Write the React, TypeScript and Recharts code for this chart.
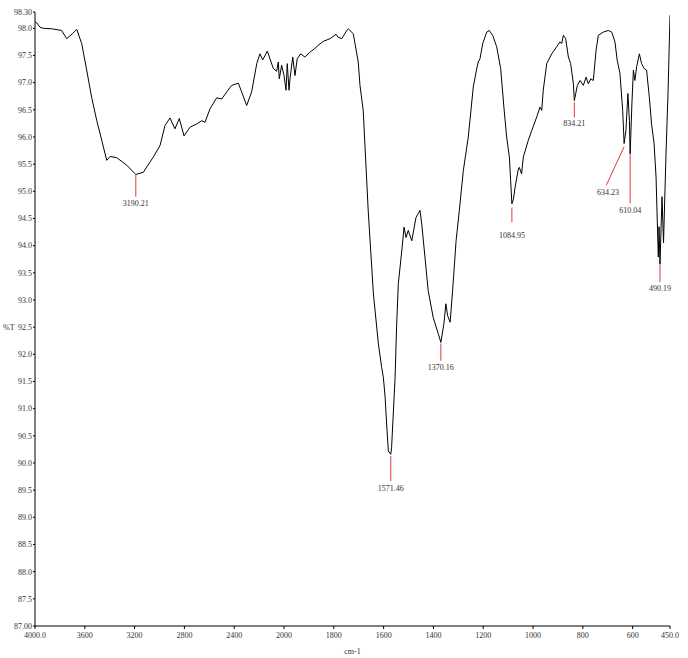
import { LineChart, Line, XAxis, YAxis, ReferenceLine, ReferenceDot } from "recharts";

// wavenumber (cm-1) and %T
const wavenumbers = [
  4000, 3986, 3960, 3933, 3860, 3786, 3745, 3700, 3665, 3625, 3585, 3545, 3504, 3464, 3424, 3398, 3344, 3263,
  3190.21, 3130, 3050, 2996, 2956, 2916, 2876, 2841, 2803, 2755, 2701, 2661, 2635, 2594, 2541, 2500, 2460, 2420,
  2367, 2340, 2300, 2260, 2219, 2193, 2171, 2134, 2086, 2059, 2046, 2038, 2019, 2000, 1992, 1987, 1980, 1976,
  1965, 1956, 1947, 1933, 1916, 1896, 1876, 1862, 1842, 1815, 1791, 1784, 1768, 1748, 1742, 1722, 1715, 1702,
  1695, 1682, 1662, 1641, 1621, 1608, 1601, 1594, 1588, 1581, 1571.46, 1568, 1554, 1548, 1541, 1527, 1518, 1510,
  1501, 1487, 1470, 1461, 1454, 1447, 1434, 1421, 1401, 1380, 1370.16, 1358, 1350, 1343, 1333, 1323, 1309, 1296,
  1280, 1260, 1240, 1226, 1220, 1213, 1202, 1186, 1176, 1162, 1146, 1130, 1117, 1106, 1095, 1090, 1084.95, 1079,
  1072, 1059, 1055, 1046, 1039, 1019, 1005, 985, 972, 965, 959, 945, 925, 905, 892, 885, 878, 869, 858, 849, 838,
  834.21, 822, 811, 798, 787, 778, 768, 758, 747, 738, 718, 698, 684, 671, 662, 651, 640, 634.23, 627, 619, 613,
  610.04, 603, 597, 591, 584, 573, 564, 554, 544, 533, 524, 514, 506, 497, 494, 490.19, 482, 476, 466, 458, 450
];

const transmittance = [
  98.12, 98.1, 98.02, 98.0, 97.99, 97.96, 97.81, 97.9, 97.98, 97.72, 97.23, 96.73, 96.3, 95.94, 95.57, 95.64, 95.62, 95.48,
  95.31, 95.35, 95.63, 95.84, 96.21, 96.35, 96.15, 96.34, 96.02, 96.18, 96.24, 96.3, 96.27, 96.52, 96.72, 96.7, 96.83, 96.95,
  96.99, 96.83, 96.58, 96.83, 97.35, 97.53, 97.42, 97.58, 97.26, 97.21, 97.38, 97.07, 97.32, 97.13, 96.86, 97.35, 96.86, 97.07,
  97.47, 97.13, 97.44, 97.53, 97.47, 97.56, 97.63, 97.69, 97.76, 97.81, 97.89, 97.84, 97.81, 97.96, 97.99, 97.9, 97.72, 97.38,
  96.95, 96.49, 94.65, 93.11, 92.19, 91.76, 91.57, 91.21, 90.72, 90.22, 90.16, 90.29, 91.57, 92.5, 93.3, 93.91, 94.34, 94.15,
  94.28, 94.09, 94.52, 94.59, 94.65, 94.4, 93.79, 93.17, 92.68, 92.37, 92.22, 92.56, 92.93, 92.71, 92.59, 93.17, 94.09, 94.65,
  95.38, 96.0, 96.92, 97.26, 97.38, 97.44, 97.72, 97.93, 97.96, 97.87, 97.66, 97.26, 96.55, 96.0, 95.63, 95.2, 94.77, 94.85,
  95.08, 95.41, 95.44, 95.32, 95.63, 95.94, 96.12, 96.37, 96.55, 96.49, 96.86, 97.35, 97.53, 97.66, 97.75, 97.72, 97.87, 97.81, 97.47, 97.35, 96.98,
  96.67, 96.95, 97.04, 96.95, 97.1, 96.98, 97.07, 97.04, 97.59, 97.87, 97.93, 97.96, 97.93, 97.75, 97.41, 97.17, 96.49, 95.88, 96.12, 96.8, 96.3,
  95.69, 96.61, 97.23, 97.04, 97.29, 97.53, 97.35, 97.26, 97.23, 96.73, 96.24, 95.88, 95.26, 93.79, 94.35, 93.66, 94.9, 94.05, 95.7, 96.8, 98.24
];

const xTickValues = [4000, 3600, 3200, 2800, 2400, 2000, 1800, 1600, 1400, 1200, 1000, 800, 600, 450];
const yTickValues = [
  87, 87.5, 88, 88.5, 89, 89.5, 90, 90.5, 91, 91.5, 92, 92.5, 93, 93.5, 94, 94.5, 95, 95.5, 96, 96.5, 97, 97.5, 98, 98.3
];

// peak markers: label, line start (wn, %T), line end (wn, %T), text (wn, %T)
const peakLabels = ["3190.21", "1571.46", "1370.16", "1084.95", "834.21", "634.23", "610.04", "490.19"];
const peakStart = [
  [3190.21, 95.31], [1571.46, 90.13], [1370.16, 92.2], [1084.95, 94.7], [834.21, 96.64], [634.23, 95.82], [610.04, 95.7], [490.19, 93.66]
];
const peakEnd = [
  [3190.21, 94.9], [1571.46, 89.67], [1370.16, 91.88], [1084.95, 94.43], [834.21, 96.36], [706, 95.11], [610.04, 94.78], [490.19, 93.33]
];
const peakText = [
  [3190.21, 94.78], [1571.46, 89.54], [1370.16, 91.76], [1084.95, 94.19], [834.21, 96.25], [699, 94.98], [610.04, 94.65], [490.19, 93.22]
];

// the spectrum axis is compressed 2:1 above 2000 cm-1
const toAxis = (w: number) => (w > 2000 ? 2000 + (w - 2000) / 2 : w);
const fromAxis = (t: number) => (t > 2000 ? 2000 + (t - 2000) * 2 : t);

const data = wavenumbers.map((w, i) => ({ t: toAxis(w), T: transmittance[i] }));

const FONT = "'Liberation Serif', 'Times New Roman', serif";
const TEXT = "#333";
const RED = "#e03a3a";

function formatX(t: number) {
  const w = Math.round(fromAxis(t));
  if (w === 4000 || w === 450) return w.toFixed(1);
  return String(w);
}

function formatY(v: number) {
  if (v === 98.3 || v === 87) return v.toFixed(2);
  return v.toFixed(1);
}

export default function App() {
  return (
    <div style={{ position: "absolute", left: 0, top: 0, width: 688, height: 658, background: "#fff" }}>
      <LineChart
        width={688}
        height={658}
        data={data}
        margin={{ top: 12, right: 18, left: 0, bottom: 0 }}
        style={{ fontFamily: FONT }}
      >
        <XAxis
          dataKey="t"
          type="number"
          domain={[450, 3000]}
          reversed
          allowDataOverflow
          ticks={xTickValues.map(toAxis)}
          interval={0}
          tickFormatter={formatX}
          height={32}
          tickSize={3}
          tickMargin={3}
          tick={{ fontSize: 8, fill: TEXT, fontFamily: FONT }}
          axisLine={{ stroke: "#000" }}
          tickLine={{ stroke: "#000" }}
          label={{ value: "cm-1", position: "insideBottom", offset: 4, fontSize: 8, fill: TEXT, fontFamily: FONT }}
        />
        <YAxis
          type="number"
          domain={[87, 98.3]}
          allowDataOverflow
          ticks={yTickValues}
          interval={0}
          tickFormatter={formatY}
          width={35}
          tickSize={2}
          tickMargin={1}
          tick={{ fontSize: 8, fill: TEXT, fontFamily: FONT }}
          axisLine={{ stroke: "#000" }}
          tickLine={{ stroke: "#000" }}
          label={{ value: "%T", position: "insideLeft", offset: 3, dy: 8, fontSize: 8, fill: TEXT, fontFamily: FONT }}
        />
        <Line
          type="linear"
          dataKey="T"
          stroke="#000"
          strokeWidth={1}
          dot={false}
          activeDot={false}
          isAnimationActive={false}
        />
        {peakLabels.map((label, i) => (
          <ReferenceLine
            key={`seg-${label}`}
            segment={[
              { x: toAxis(peakStart[i][0]), y: peakStart[i][1] },
              { x: toAxis(peakEnd[i][0]), y: peakEnd[i][1] }
            ]}
            stroke={RED}
            strokeWidth={1}
          />
        ))}
        {peakLabels.map((label, i) => (
          <ReferenceDot
            key={`txt-${label}`}
            x={toAxis(peakText[i][0])}
            y={peakText[i][1]}
            r={0}
            fill="none"
            stroke="none"
            label={{ value: label, position: "center", fontSize: 8, fill: TEXT, fontFamily: FONT }}
          />
        ))}
      </LineChart>
    </div>
  );
}
